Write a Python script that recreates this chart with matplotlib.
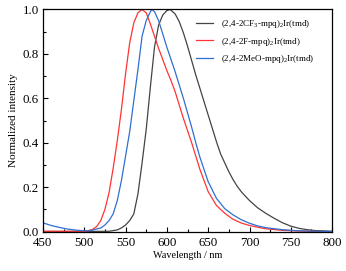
import matplotlib
matplotlib.use("Agg")
import matplotlib.pyplot as plt
from matplotlib.ticker import MultipleLocator

plt.rcParams['font.family'] = ['Liberation Serif', 'DejaVu Serif']
plt.rcParams['mathtext.fontset'] = 'custom'
plt.rcParams['mathtext.rm'] = 'Liberation Serif'

labels = [r"(2,4-2CF$_3$-mpq)$_2$Ir(tmd)",
          r"(2,4-2F-mpq)$_2$Ir(tmd)",
          r"(2,4-2MeO-mpq)$_2$Ir(tmd)"]
colors = ["#444444", "#ff3333", "#2f6fd0"]

wl_cf3 = [450, 500, 530, 540, 545, 550, 555, 560, 565, 570, 575, 580, 585, 590, 595, 600, 604,
          610, 615, 620, 625, 630, 635, 640, 645, 650, 655, 660, 665, 670, 675, 680, 685, 690,
          695, 700, 710, 720, 730, 740, 750, 760, 770, 780, 800]
int_cf3 = [0.001, 0.001, 0.002, 0.008, 0.017, 0.03, 0.05, 0.08, 0.17, 0.31, 0.46, 0.65, 0.83,
           0.93, 0.975, 0.995, 1.0, 0.98, 0.945, 0.895, 0.835, 0.77, 0.705, 0.645, 0.585, 0.525,
           0.465, 0.405, 0.35, 0.31, 0.27, 0.235, 0.205, 0.18, 0.16, 0.14, 0.107, 0.082, 0.06,
           0.04, 0.025, 0.015, 0.009, 0.005, 0.002]

wl_f = [450, 500, 505, 510, 515, 520, 525, 530, 535, 540, 545, 550, 555, 560, 565, 570, 575,
        580, 585, 590, 595, 600, 605, 610, 615, 620, 625, 630, 640, 650, 660, 670, 680, 690,
        700, 710, 720, 740, 760, 800]
int_f = [0.002, 0.002, 0.005, 0.01, 0.023, 0.05, 0.10, 0.175, 0.285, 0.41, 0.55, 0.71, 0.85,
         0.94, 0.985, 1.0, 0.985, 0.935, 0.88, 0.825, 0.775, 0.725, 0.68, 0.63, 0.57, 0.51,
         0.455, 0.40, 0.28, 0.18, 0.118, 0.083, 0.056, 0.039, 0.028, 0.02, 0.013, 0.006,
         0.003, 0.0]

wl_meo = [450, 455, 460, 470, 480, 490, 500, 505, 510, 515, 520, 525, 530, 535, 540, 545, 550,
          555, 560, 565, 570, 575, 580, 582, 585, 590, 595, 600, 605, 610, 615, 620, 625, 630,
          635, 640, 650, 660, 670, 680, 690, 700, 710, 720, 740, 760, 780, 800]
int_meo = [0.040, 0.034, 0.028, 0.019, 0.012, 0.007, 0.004, 0.004, 0.007, 0.012, 0.017, 0.03,
           0.05, 0.08, 0.14, 0.23, 0.34, 0.45, 0.59, 0.73, 0.88, 0.95, 0.99, 1.0, 0.99, 0.95,
           0.89, 0.83, 0.775, 0.72, 0.66, 0.60, 0.535, 0.47, 0.40, 0.335, 0.225, 0.15, 0.104,
           0.076, 0.054, 0.038, 0.026, 0.018, 0.009, 0.004, 0.002, 0.001]

fig = plt.figure(figsize=(3.46, 2.71), dpi=100)
ax = fig.add_axes([0.124, 0.145, 0.836, 0.82])

for wl, it, c, lab in zip([wl_cf3, wl_f, wl_meo], [int_cf3, int_f, int_meo], colors, labels):
    ax.plot(wl, it, color=c, lw=0.9, label=lab)

ax.set_xlim(450, 800)
ax.set_ylim(0, 1.0)
ax.xaxis.set_major_locator(MultipleLocator(50))
ax.xaxis.set_minor_locator(MultipleLocator(25))
ax.yaxis.set_major_locator(MultipleLocator(0.2))
ax.yaxis.set_minor_locator(MultipleLocator(0.1))
ax.yaxis.set_major_formatter(matplotlib.ticker.FormatStrFormatter('%.1f'))
ax.tick_params(which='both', direction='in', labelsize=9.3, top=False, right=False)
ax.tick_params(which='major', length=3.5, width=0.8)
ax.tick_params(axis='x', which='major', pad=3.5)
ax.tick_params(axis='y', which='major', pad=3)
ax.tick_params(which='minor', length=2, width=0.8)
for s in ax.spines.values():
    s.set_linewidth(0.9)

ax.set_xlabel("Wavelength / nm", fontsize=7.3, labelpad=1.5)
ax.set_ylabel("Normalized intensity", fontsize=8, labelpad=3)

ax.legend(loc='upper left', bbox_to_anchor=(188/346, 1 - 10/271), bbox_transform=fig.transFigure,
          frameon=False, fontsize=6.5, handlelength=1.9, labelspacing=0.6, handletextpad=0.9)

fig.savefig("out.png", dpi=100)
